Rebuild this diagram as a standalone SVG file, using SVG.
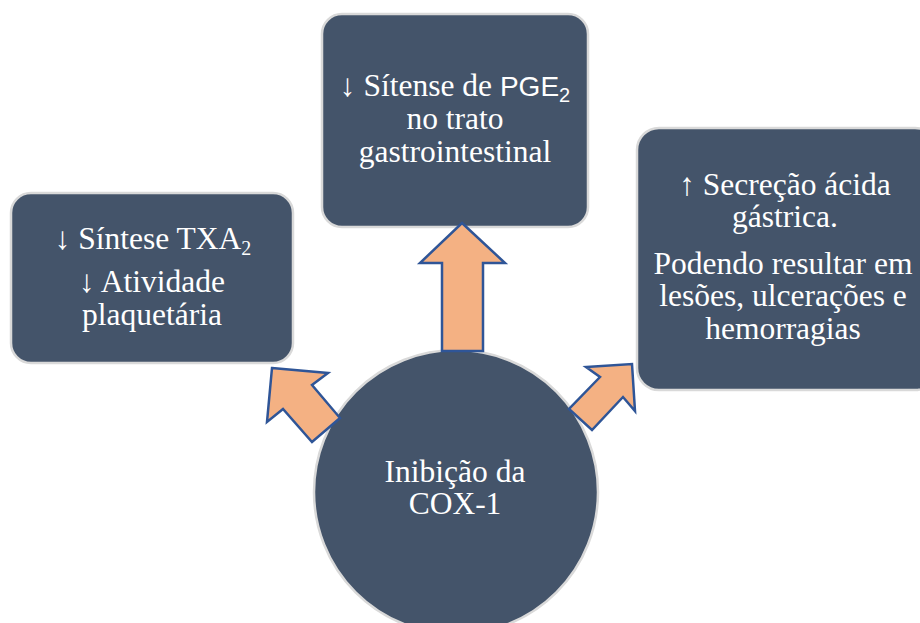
<svg xmlns="http://www.w3.org/2000/svg" width="920" height="623" viewBox="0 0 920 623">
<style>
.box{fill:#44546A;stroke:#D9D9D9;stroke-width:2.5}
.arr{fill:#F4B183;stroke:#2F5597;stroke-width:2.5;stroke-linejoin:miter}
.t{font-family:"Liberation Serif","DejaVu Serif",serif;font-size:31.5px;fill:#FFFFFF;text-anchor:middle}
.sans{font-family:"Liberation Sans","DejaVu Sans",sans-serif;font-size:28px}
.sub{font-size:20px}
</style>
<rect width="920" height="623" fill="#FFFFFF"/>
<g id="node-txa2">
<rect class="box" x="11" y="193" width="282" height="170" rx="20"/>
<text class="t" x="153" y="249">↓ Síntese TXA<tspan class="sub" dy="6">2</tspan></text>
<text class="t" x="152" y="292">↓ Atividade</text>
<text class="t" x="152" y="325">plaquetária</text>
</g>
<g id="node-pge2">
<rect class="box" x="322" y="14" width="266" height="213" rx="20"/>
<text class="t" x="455" y="96">↓ Sítense de <tspan class="sans">PGE</tspan><tspan class="sans sub" dy="6">2</tspan></text>
<text class="t" x="455" y="129">no trato</text>
<text class="t" x="455" y="162">gastrointestinal</text>
</g>
<g id="node-acid">
<rect class="box" x="637" y="128" width="300" height="262" rx="22"/>
<text class="t" x="785" y="195">↑ Secreção ácida</text>
<text class="t" x="785" y="227">gástrica.</text>
<text class="t" x="783" y="274">Podendo resultar em</text>
<text class="t" x="783" y="306">lesões, ulcerações e</text>
<text class="t" x="783" y="339">hemorragias</text>
</g>
<g id="node-cox1">
<circle cx="456" cy="492" r="142" fill="#44546A" stroke="#D9D9D9" stroke-width="2.5"/>
<text class="t" x="455" y="482">Inibição da</text>
<text class="t" x="455" y="514">COX-1</text>
</g>
<g id="connectors">
<polygon class="arr" points="462,223 505,263 483,263 483,351 442,351 442,263 420,263"/>
<polygon class="arr" points="272,368 328,373 312,385 340,418 312,442 283,409 267,422"/>
<polygon class="arr" points="632,364 635,411 623,397 592,430 569,409 600,377 586,367"/>
</g>
</svg>
